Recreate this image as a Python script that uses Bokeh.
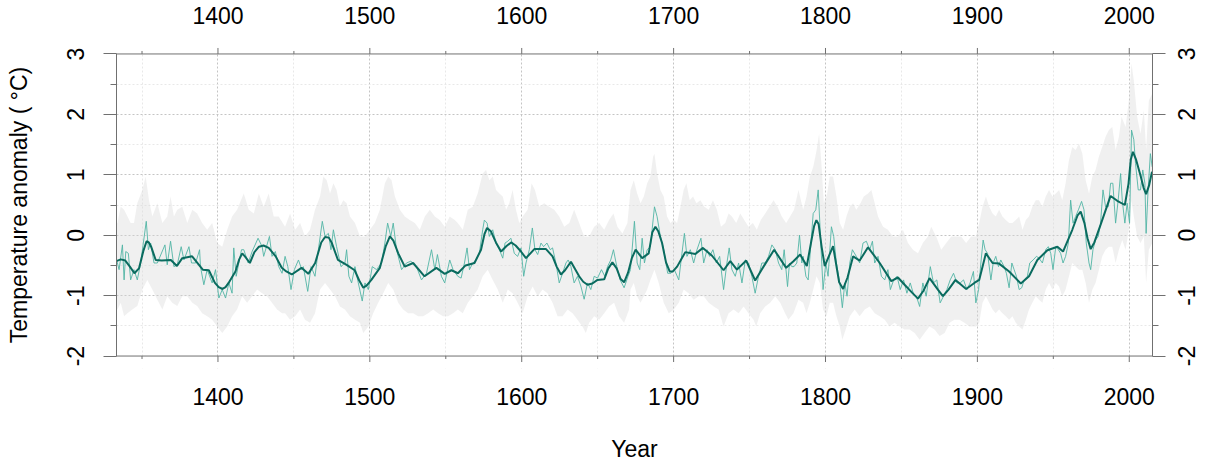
import math
from bokeh.plotting import figure
from bokeh.models import Range1d, LinearAxis, FixedTicker
from bokeh.embed import file_html
from bokeh.resources import INLINE

# ---------------- data ----------------
smooth_years = [1333, 1336, 1339, 1342, 1345, 1348, 1351, 1353, 1354.5, 1356, 1359, 1363, 1369, 1373, 1376.5,
                1383, 1390, 1394, 1398, 1400.5, 1403, 1405, 1407, 1411.5, 1414, 1416, 1418, 1421, 1424, 1427,
                1430, 1433.4, 1438, 1442, 1445, 1448.6, 1455, 1459.5, 1464, 1468, 1470.5, 1473, 1475, 1479,
                1484.7, 1490, 1493, 1495.7, 1498, 1501, 1506.6, 1510.5, 1513.2, 1515.5, 1518.7, 1523, 1528.5,
                1536, 1543.8, 1549.3, 1553.7, 1558, 1563, 1568.9, 1573.2, 1575.5, 1577.2, 1579.8, 1583,
                1586.4, 1590, 1593, 1596, 1599.5, 1602.8, 1608.3, 1616, 1620.3, 1623, 1625.8, 1628.5, 1632.4,
                1637.8, 1640.5, 1643.3, 1646.5, 1649.9, 1654.3, 1657, 1659.7, 1662.5, 1665, 1667.4, 1670,
                1672.5, 1675, 1679.3, 1683.6, 1686, 1688, 1690, 1692.4, 1695, 1697.4, 1699.5, 1702.3, 1707.7,
                1714.3, 1719.3, 1725.3, 1732.9, 1737.3, 1741.7, 1747.8, 1753.7, 1759.2, 1766.2, 1774.1,
                1778.9, 1783.3, 1787.7, 1791, 1792.5, 1794, 1795.5, 1797.5, 1799.5, 1805, 1809, 1811.6,
                1814.5, 1818.2, 1822.5, 1828, 1835.7, 1843.3, 1847.7, 1852.1, 1857, 1860.9, 1864.5, 1868.5,
                1874, 1877.3, 1881, 1885.6, 1892.6, 1898, 1901.2, 1905.6, 1910, 1914.3, 1920.9, 1928.6, 1934,
                1939.5, 1946.1, 1952.7, 1956.4, 1962.5, 1966, 1968, 1970.5, 1972.5, 1974.6, 1977, 1981.1,
                1987.7, 1992.1, 1997.1, 1999.5, 2001, 2002.4, 2004.5, 2007.4, 2009.5, 2011.1, 2013, 2015]
smooth_vals = [-0.43, -0.40, -0.42, -0.52, -0.63, -0.55, -0.25, -0.10, -0.12, -0.19, -0.41, -0.42, -0.41, -0.51, -0.38,
               -0.35, -0.57, -0.58, -0.79, -0.86, -0.89, -0.86, -0.79, -0.60, -0.40, -0.30, -0.36, -0.46, -0.28, -0.19,
               -0.17, -0.21, -0.35, -0.54, -0.60, -0.65, -0.54, -0.64, -0.46, -0.12, -0.03, -0.04, -0.13, -0.41,
               -0.49, -0.58, -0.75, -0.87, -0.83, -0.74, -0.54, -0.18, -0.02, -0.09, -0.30, -0.52, -0.46,
               -0.68, -0.54, -0.64, -0.58, -0.63, -0.50, -0.46, -0.24, 0.02, 0.12, 0.06, -0.12,
               -0.27, -0.18, -0.12, -0.17, -0.27, -0.38, -0.23, -0.23, -0.35, -0.52, -0.65, -0.58, -0.44,
               -0.68, -0.77, -0.82, -0.80, -0.74, -0.73, -0.55, -0.45, -0.55, -0.72, -0.78, -0.62,
               -0.38, -0.24, -0.38, -0.30, 0.05, 0.14, 0.06, -0.13, -0.45, -0.60, -0.60, -0.52, -0.28,
               -0.31, -0.21, -0.34, -0.58, -0.43, -0.57, -0.42, -0.75, -0.52, -0.24, -0.54,
               -0.43, -0.32, -0.51, -0.05, 0.15, 0.25, 0.18, -0.20, -0.51, -0.18, -0.78, -0.89,
               -0.70, -0.35, -0.42, -0.20, -0.46, -0.76, -0.70, -0.82, -0.95, -1.05, -0.92, -0.71,
               -0.90, -1.01, -0.90, -0.74, -0.89, -0.79, -0.74, -0.30, -0.46, -0.47, -0.60, -0.80, -0.68,
               -0.41, -0.25, -0.19, -0.27, 0.09, 0.33, 0.39, 0.20, -0.05, -0.23, -0.12, 0.17,
               0.65, 0.57, 0.50, 0.85, 1.25, 1.38, 1.25, 0.99, 0.78, 0.68, 0.82, 1.05]

annual_years = [1333.3, 1334.9, 1337.1, 1338.2, 1339.3, 1341.0, 1342.5, 1344.7, 1346.9, 1349.1, 1352.8, 1354.2,
                1355.7, 1357.9, 1360.1, 1365.1, 1366.6, 1368.8, 1371.0, 1373.2, 1375.8, 1377.6, 1380.9, 1382.6,
                1385.3, 1387.9, 1388.5, 1390.7, 1392.9, 1396.2, 1398.4, 1400.6, 1402.8, 1405.0, 1407.2, 1409.3,
                1410.4, 1412.0, 1415.5, 1417.0, 1419.9, 1422.5, 1426.4, 1429.1, 1430.1, 1433.9, 1435.6, 1437.8,
                1440.0, 1442.2,
                1444.2, 1446.0, 1448.1, 1450.3, 1453.0, 1455.2, 1456.2, 1459.1, 1461.3, 1463.9, 1466.1, 1468.7,
                1470.5, 1472.7, 1474.4, 1476.0, 1478.1, 1481.0, 1483.6, 1484.7, 1486.2, 1488.0, 1490.2, 1492.4,
                1495.0, 1496.8, 1499.0, 1501.6, 1504.4, 1507.7, 1509.9, 1511.7, 1513.8, 1515.4, 1517.6, 1520.9,
                1524.1, 1527.0, 1530.7, 1534.0, 1537.3, 1540.6, 1542.8, 1544.5, 1547.1, 1549.3, 1552.6, 1554.8,
                1557.9, 1560.1, 1562.3, 1564.0, 1565.6, 1567.8, 1569.9, 1572.1, 1574.3, 1575.4, 1577.2, 1578.7,
                1580.9, 1583.1, 1585.3, 1587.5, 1589.0, 1590.8, 1592.9, 1595.1, 1597.3, 1599.5, 1601.3, 1602.8,
                1605.0, 1607.0, 1608.7, 1610.5, 1612.7, 1614.4, 1616.6, 1618.8, 1620.3, 1622.5, 1624.7, 1626.9,
                1629.1, 1630.6, 1632.4, 1634.5, 1636.7, 1638.9, 1641.1, 1643.3, 1645.5, 1647.7, 1649.9, 1652.5,
                1654.7, 1656.5, 1658.6, 1660.4, 1662.6, 1664.8, 1667.4, 1670.0,
                1671.6, 1674.2, 1676.0, 1677.7, 1679.3, 1680.8, 1682.6, 1684.7, 1687.4, 1689.1, 1691.3, 1693.5,
                1696.1, 1698.3, 1700.5, 1703.4, 1705.5, 1707.1, 1708.8, 1711.0, 1713.2, 1715.4, 1718.0, 1719.8,
                1722.0, 1723.7, 1725.9, 1728.1, 1730.3, 1732.9, 1735.1, 1736.6, 1738.4, 1740.6, 1742.8, 1745.0,
                1747.2, 1749.3, 1751.5, 1753.7, 1755.9, 1758.1, 1760.3, 1762.5, 1764.7, 1766.9, 1769.1, 1771.2,
                1772.8, 1775.0, 1776.3, 1777.8, 1779.3, 1781.1, 1782.9, 1784.4,
                1785.3, 1787.1, 1788.6, 1790.1, 1791.9, 1793.6, 1795.2, 1796.7, 1798.4, 1800.2, 1801.7, 1803.9,
                1805.4, 1807.2, 1809.4, 1811.1, 1812.7, 1814.2, 1816.0, 1817.7, 1820.3, 1822.5, 1824.7, 1826.9,
                1829.1, 1830.9, 1832.4, 1834.6, 1836.8, 1839.0, 1841.1, 1842.7, 1844.9, 1847.1, 1849.2, 1851.4,
                1853.6, 1855.8, 1858.0, 1859.8, 1862.0, 1864.1, 1866.3, 1869.0, 1871.1, 1873.3, 1875.5, 1877.7,
                1879.9, 1882.1, 1884.3, 1886.5, 1888.7, 1890.9, 1893.1, 1895.2, 1897.4,
                1899.0, 1900.8, 1902.3, 1903.8, 1905.1, 1906.7, 1908.9, 1910.4, 1912.1, 1913.9, 1915.4, 1917.6,
                1919.1, 1920.9, 1922.7, 1924.2, 1925.7, 1927.5, 1929.2, 1930.8, 1932.9, 1934.5, 1936.7, 1938.9,
                1940.6, 1942.8, 1945.0, 1946.7, 1948.3, 1949.8, 1951.6, 1953.3, 1954.8, 1956.4, 1958.1, 1959.9,
                1961.4, 1963.0, 1964.7, 1966.5, 1968.6, 1970.2, 1971.7, 1973.5, 1974.6, 1976.1, 1977.8, 1979.6,
                1981.1, 1982.7, 1984.4, 1986.2, 1987.7, 1989.2, 1991.0, 1992.7, 1994.3, 1995.4, 1997.1, 1998.6,
                2000.2, 2001.5, 2003.0, 2004.1, 2005.9, 2007.4, 2008.9, 2010.3, 2011.1, 2012.4, 2013.9, 2015.1]
annual_vals = [-0.41, -0.57, -0.16, -0.74, -0.27, -0.30, -0.74, -0.57, -0.74, -0.46, 0.23, -0.24,
               -0.13, -0.46, -0.46, -0.16, -0.49, -0.10, -0.52, -0.49, -0.19, -0.41, -0.19, -0.46,
               -0.46, -0.24, -0.52, -0.82, -0.57, -0.79, -0.57, -1.04, -0.90, -1.04, -0.79, -0.96,
               -0.21, -0.68, -0.24, -0.24, -0.46, -0.27, -0.05, -0.19, -0.35, -0.02, -0.35, -0.27,
               -0.52, -0.63,
               -0.35, -0.52, -0.90, -0.57, -0.41, -0.57, -0.52, -0.93, -0.52, -0.68, -0.24, 0.23,
               -0.02, 0.03, -0.24, 0.09, -0.19, -0.52, -0.46, -0.24, -0.68, -0.79, -0.52, -0.79,
               -1.09, -0.79, -0.90, -0.52, -0.57, -0.46, -0.13, 0.20, -0.02, 0.20, -0.24, -0.57,
               -0.46, -0.43, -0.52, -0.74, -0.63, -0.24, -0.57, -0.32, -0.68, -0.79, -0.41, -0.57,
               -0.68, -0.71, -0.46, -0.21, -0.57, -0.46, -0.41, -0.30, 0.09, 0.25, 0.20, -0.02,
               0.09, -0.13, -0.24, -0.38, -0.13, -0.10, -0.05, -0.30, -0.35, -0.21, -0.68, -0.46,
               -0.24, 0.12, -0.24, -0.32, -0.13, -0.19, -0.13, -0.24, -0.21, -0.46, -0.79, -0.63,
               -0.46, -0.41, -0.52, -0.79, -0.68, -0.84, -1.06, -0.79, -0.90, -0.68, -0.71, -0.57,
               -0.68, -0.52, -0.41, -0.24, -0.52, -0.74, -0.87, -0.68,
               -0.57, 0.23, -0.46, -0.57, -0.05, -0.46, -0.24, -0.19, 0.47, 0.31, -0.02, -0.24,
               -0.63, -0.63, -0.57, -0.74, -0.30, 0.03, -0.35, -0.24, -0.46, -0.24, -0.05, -0.46,
               -0.24, -0.35, -0.24, -0.46, -0.35, -0.90, -0.46, -0.21, -0.57, -0.68, -0.46, -0.79,
               -0.41, -0.46, -0.68, -0.96, -0.68, -0.46, -0.46, -0.35, -0.16, -0.24, -0.46, -0.57,
               -0.24, -0.85, -0.46, -0.52, -0.52, -0.46, 0.00, -0.46,
               -0.35, -0.68, -0.74, -0.24, 0.36, 0.42, 0.75, -0.02, -0.90, -0.46, -0.68, 0.14,
               -0.02, -0.46, -0.79, -1.20, -0.79, -1.01, -0.46, -0.24, -0.35, -0.46, -0.13, -0.10,
               -0.24, -0.10, -0.46, -0.35, -0.68, -0.74, -0.57, -0.90, -0.74, -0.68, -0.90, -0.74,
               -0.96, -0.79, -0.98, -1.01, -1.18, -0.79, -1.01, -0.52, -0.79, -0.74, -1.12, -1.01,
               -0.90, -0.74, -0.63, -0.79, -0.79, -0.74, -0.90, -0.79, -0.60,
               -1.12, -0.90, -0.46, -0.08, -0.24, -0.30, -0.74, -0.46, -0.35, -0.52, -0.41, -0.52,
               -0.63, -0.87, -0.46, -0.57, -0.68, -0.90, -0.87, -0.74, -0.68, -0.46, -0.41, -0.35,
               -0.38, -0.46, -0.24, -0.19, -0.30, -0.57, -0.19, -0.24, -0.30, -0.46, -0.35, -0.13,
               0.58, 0.20, 0.31, 0.42, 0.56, 0.42, -0.13, -0.46, -0.57, -0.24, -0.08, -0.02,
               0.20, 0.75, 0.47, 0.47, 0.86, 0.86, 0.20, 0.58, 1.02, 0.58, 0.20, 0.53,
               0.20, 1.74, 1.58, 1.19, 0.75, 0.75, 1.08, 0.86, 0.03, 0.75, 1.35, 1.13]

upper_years = [1330.5, 1333.8, 1336.0, 1338.2, 1340.4, 1342.5, 1344.7, 1346.9, 1350.2, 1352.4, 1354.6, 1356.8,
               1360.1, 1363.4, 1366.6, 1368.8, 1371.0, 1373.2, 1376.5, 1379.8, 1383.1, 1386.3, 1389.6, 1392.9,
               1396.2, 1399.5, 1402.8, 1406.1, 1409.3, 1412.6, 1417.0, 1420.3, 1423.6, 1426.9, 1430.1, 1433.4,
               1436.7, 1440.0,
               1444.2, 1447.5, 1450.8, 1454.1, 1457.3, 1460.6, 1463.9, 1467.2, 1469.4, 1471.6, 1473.8, 1476.0,
               1478.1, 1480.3, 1482.5, 1484.7, 1486.9, 1490.2, 1493.5, 1496.8, 1500.0, 1503.3, 1506.6, 1509.9,
               1512.1, 1514.3, 1516.5, 1519.8, 1523.0, 1526.3, 1529.6, 1532.9, 1536.2, 1539.5, 1542.8, 1546.0,
               1549.3, 1552.6, 1555.9,
               1557.9, 1561.2, 1564.5, 1567.8, 1571.0, 1574.3, 1576.5, 1578.7, 1580.9, 1583.1, 1585.3, 1587.5,
               1589.7, 1591.8, 1594.0, 1596.2, 1598.4, 1600.6, 1603.9, 1606.5, 1608.7, 1611.6, 1614.8, 1618.1,
               1621.4, 1624.7, 1628.0, 1631.3, 1634.5, 1637.8, 1641.1, 1644.4, 1647.7, 1651.0, 1654.3, 1657.5,
               1660.4, 1663.0, 1666.3, 1669.6,
               1671.6, 1673.8, 1676.0, 1678.2, 1680.4, 1682.6, 1684.7, 1686.5, 1687.4, 1689.1, 1691.3, 1693.5,
               1695.7, 1697.9, 1700.1, 1702.3, 1704.5, 1706.6, 1708.4, 1710.6, 1712.8, 1715.0, 1717.6, 1720.2,
               1723.1, 1725.9, 1728.5, 1731.2, 1734.0, 1736.2, 1738.4, 1741.2, 1743.9, 1746.5, 1749.3, 1752.2,
               1754.8, 1757.4, 1760.3, 1763.1, 1765.8, 1768.4, 1771.2, 1774.1, 1776.7, 1779.3, 1782.2,
               1785.3, 1787.5, 1789.7, 1791.9, 1794.1, 1795.8, 1797.3, 1798.9, 1801.1, 1802.8, 1805.0, 1807.2,
               1809.4, 1811.6, 1813.8, 1816.0, 1818.2, 1820.3, 1823.0, 1825.2, 1828.0, 1830.2, 1832.4, 1834.6,
               1837.9, 1841.1, 1844.4, 1847.7, 1851.0, 1854.3, 1857.6, 1860.9, 1864.1, 1867.4, 1869.6, 1872.9,
               1876.2, 1879.5, 1882.8, 1886.0, 1889.3, 1892.6, 1895.9,
               1899.0, 1901.2, 1903.4, 1905.6, 1907.8, 1910.0, 1912.1, 1914.3, 1916.5, 1918.7, 1920.9, 1923.1,
               1925.3, 1927.5, 1929.7, 1931.9, 1934.0, 1936.2, 1938.4, 1940.6, 1942.8, 1945.0, 1947.2, 1949.4,
               1951.6, 1953.8, 1955.9, 1958.1, 1960.3, 1962.5, 1964.7, 1966.9, 1969.1, 1971.3, 1973.5, 1975.7,
               1977.8, 1980.0, 1982.2, 1984.4, 1986.6, 1988.8, 1991.0, 1993.2, 1994.9, 1997.6, 1999.7, 2001.5,
               2003.0, 2005.2, 2007.4, 2009.6, 2011.1, 2012.9, 2015.1]
upper_vals = [0.20, 0.20, 0.47, 0.42, 0.31, 0.20, 0.20, 0.53, 0.75, 0.97, 0.58, 0.31,
              0.53, 0.20, 0.31, 0.64, 0.31, 0.42, 0.47, 0.20, 0.42, 0.36, 0.20, 0.09,
              0.20, -0.13, -0.19, 0.09, 0.31, 0.42, 0.69, 0.42, 0.36, 0.69, 0.47, 0.69,
              0.31, 0.31,
              0.14, 0.36, 0.09, 0.20, -0.02, 0.09, 0.42, 0.64, 0.97, 0.91, 0.69, 0.86,
              0.75, 0.47, 0.58, 0.53, 0.31, 0.20, -0.02, -0.02, 0.09, 0.20, 0.42, 0.86,
              0.97, 0.91, 0.64, 0.42, 0.31, 0.25, 0.20, 0.09, 0.31, 0.42, 0.31, 0.25,
              0.14, 0.31, 0.25,
              0.20, 0.09, 0.42, 0.47, 0.69, 1.02, 1.08, 0.91, 0.97, 0.75, 0.69, 0.64,
              0.42, 0.53, 0.75, 0.42, 0.20, 0.31, 0.42, 0.86, 0.75, 0.47, 0.53, 0.47,
              0.42, 0.31, 0.14, 0.20, 0.42, 0.20, -0.02, -0.02, 0.14, 0.20, 0.09, 0.25,
              0.36, 0.14, 0.03, 0.20,
              0.75, 0.91, 0.69, 0.53, 0.64, 0.86, 0.97, 1.30, 1.35, 1.02, 0.75, 0.64,
              0.31, 0.20, 0.25, 0.20, 0.47, 0.75, 0.86, 0.58, 0.64, 0.53, 0.58, 0.47,
              0.42, 0.58, 0.42, 0.14, 0.20, 0.36, 0.31, 0.20, 0.36, 0.25, 0.14, 0.20,
              0.09, 0.25, 0.36, 0.47, 0.58, 0.47, 0.31, 0.20, 0.31, 0.42, 0.75,
              0.42, 0.64, 0.97, 1.13, 1.40, 1.68, 1.19, 0.53, 0.69, 0.97, 0.97, 0.64,
              0.20, 0.09, 0.31, 0.47, 0.53, 0.42, 0.53, 0.64, 0.69, 0.75, 0.53, 0.31,
              0.14, 0.09, -0.02, -0.02, 0.09, -0.13, -0.24, -0.30, -0.13, -0.02, 0.14, -0.02,
              -0.24, -0.13, -0.02, -0.02, -0.02, -0.13, -0.02,
              -0.02, 0.20, 0.47, 0.64, 0.47, 0.36, 0.31, 0.42, 0.31, 0.25, 0.20, 0.20,
              0.25, 0.31, 0.09, 0.25, 0.31, 0.47, 0.58, 0.58, 0.47, 0.64, 0.75, 0.64,
              0.69, 0.75, 0.58, 0.86, 1.24, 1.46, 1.41, 1.52, 1.35, 0.91, 0.69, 0.97,
              1.08, 1.30, 1.46, 1.63, 1.74, 1.79, 1.41, 1.63, 1.96, 1.79, 2.23, 2.84,
              2.56, 1.96, 1.68, 2.07, 1.41, 2.23, 2.34]

lower_years = [1330.5, 1333.8, 1336.0, 1338.2, 1340.4, 1343.6, 1346.9, 1350.2, 1353.5, 1356.8, 1360.1, 1363.4,
               1366.6, 1369.9, 1373.2, 1376.5, 1379.8, 1383.1, 1386.3, 1389.6, 1392.9, 1396.2, 1399.5, 1402.8,
               1406.1, 1409.3, 1412.6, 1415.9, 1419.2, 1422.5, 1425.8, 1429.1, 1432.3, 1435.6, 1438.9, 1442.2,
               1444.2, 1447.5, 1450.8, 1454.1, 1457.3, 1460.6, 1463.9, 1467.2, 1470.5, 1473.8, 1477.1, 1480.3,
               1483.6, 1486.9, 1490.2, 1493.5, 1495.7, 1499.0, 1502.2, 1505.5, 1508.8, 1512.1, 1515.4, 1518.7,
               1521.9, 1525.2, 1528.5, 1531.8, 1535.1, 1538.4, 1541.7, 1544.9, 1548.2, 1551.5, 1554.8,
               1557.9, 1561.2, 1564.5, 1567.8, 1571.0, 1574.3, 1577.6, 1580.9, 1584.2, 1587.5, 1590.8, 1594.0,
               1597.3, 1600.6, 1603.9, 1607.2, 1610.5, 1613.7, 1617.0, 1620.3, 1623.6, 1626.9, 1630.2, 1633.5,
               1636.7, 1640.0, 1642.2, 1644.4, 1647.7, 1651.0, 1654.3, 1657.5, 1660.8, 1664.1, 1667.4, 1670.7,
               1671.6, 1673.8, 1676.0, 1678.2, 1680.4, 1682.6, 1684.7, 1687.4, 1690.2, 1693.5, 1696.8, 1700.1,
               1703.4, 1706.6, 1709.9, 1713.2, 1716.5, 1719.8, 1723.1, 1726.4, 1729.6, 1732.9, 1736.2, 1739.5,
               1742.8, 1746.1, 1749.3, 1752.6, 1754.4, 1757.0, 1760.3, 1763.6, 1766.9, 1770.2, 1773.4, 1775.6,
               1778.9, 1782.2,
               1785.3, 1787.5, 1789.7, 1791.9, 1794.1, 1796.3, 1798.4, 1800.6, 1802.8, 1805.0, 1807.2, 1809.4,
               1811.1, 1813.3, 1816.0, 1819.2, 1822.5, 1825.8, 1829.1, 1832.4, 1835.7, 1839.0, 1842.2, 1845.5,
               1848.8, 1852.1, 1855.4, 1858.7, 1862.0, 1865.2, 1868.5, 1871.8, 1875.1, 1878.4, 1881.7, 1884.9,
               1888.2, 1891.5, 1894.8, 1898.1,
               1899.0, 1901.2, 1903.4, 1905.6, 1907.8, 1910.0, 1912.1, 1914.3, 1916.5, 1918.7, 1920.9, 1923.1,
               1925.3, 1927.5, 1929.7, 1931.9, 1934.0, 1936.2, 1938.4, 1940.6, 1942.8, 1945.0, 1947.2, 1949.4,
               1951.6, 1953.8, 1955.9, 1958.1, 1960.3, 1962.5, 1964.7, 1966.9, 1969.1, 1971.3, 1973.5, 1975.7,
               1977.8, 1980.0, 1982.2, 1984.4, 1986.6, 1988.8, 1991.0, 1993.2, 1995.4, 1997.6, 1999.7, 2001.5,
               2003.0, 2005.2, 2007.4, 2009.6, 2011.1, 2012.9, 2015.1]
lower_vals = [-1.17, -1.23, -1.12, -1.34, -1.29, -1.23, -1.17, -0.90, -0.74, -0.90, -1.07, -1.23,
              -1.01, -1.12, -1.17, -1.01, -1.01, -1.12, -1.17, -1.29, -1.34, -1.40, -1.51, -1.62,
              -1.51, -1.34, -1.23, -1.01, -1.12, -1.01, -0.90, -0.96, -1.01, -1.12, -1.23, -1.29,
              -1.29, -1.40, -1.34, -1.23, -1.40, -1.45, -1.29, -0.90, -0.79, -0.90, -1.01, -1.18,
              -1.23, -1.34, -1.40, -1.45, -1.62, -1.51, -1.29, -1.12, -0.96, -0.79, -0.90, -1.12,
              -1.23, -1.29, -1.29, -1.34, -1.34, -1.29, -1.23, -1.29, -1.34, -1.34, -1.29,
              -1.23, -1.29, -1.12, -1.01, -0.90, -0.68, -0.57, -0.74, -0.90, -1.12, -0.90, -0.96,
              -1.12, -1.29, -1.01, -0.85, -1.01, -0.90, -0.96, -1.12, -1.34, -1.34, -1.23, -1.29,
              -1.40, -1.51, -1.62, -1.45, -1.34, -1.40, -1.29, -1.18, -1.12, -1.34, -1.45, -1.23,
              -0.90, -0.79, -1.01, -1.12, -1.01, -0.90, -0.74, -0.57, -0.79, -1.12, -1.29, -1.23,
              -1.12, -0.90, -0.96, -1.07, -1.01, -1.01, -1.12, -1.18, -1.23, -1.51, -1.29, -1.23,
              -1.29, -1.18, -1.29, -1.40, -1.51, -1.29, -1.18, -1.12, -1.01, -1.12, -1.29, -1.40,
              -1.29, -1.07,
              -1.12, -1.29, -1.12, -0.90, -0.68, -0.79, -1.23, -1.34, -1.12, -1.12, -1.34, -1.51,
              -1.73, -1.56, -1.34, -1.23, -1.34, -1.23, -1.18, -1.29, -1.34, -1.40, -1.51, -1.45,
              -1.51, -1.56, -1.56, -1.62, -1.73, -1.62, -1.51, -1.56, -1.67, -1.62, -1.45, -1.40,
              -1.40, -1.45, -1.51, -1.51,
              -1.51, -1.45, -1.12, -1.01, -1.12, -1.23, -1.29, -1.23, -1.29, -1.34, -1.40, -1.34,
              -1.45, -1.51, -1.56, -1.40, -1.23, -1.12, -1.01, -1.07, -1.12, -0.90, -0.79, -0.90,
              -0.79, -0.85, -1.01, -0.90, -0.68, -0.46, -0.52, -0.57, -0.57, -0.79, -1.12, -0.90,
              -0.79, -0.57, -0.35, -0.24, -0.19, -0.19, -0.46, -0.24, -0.08, -0.24, 0.09, 0.58,
              0.31, -0.02, -0.13, -0.02, -0.79, -0.24, -0.13]

x_major = [1400, 1500, 1600, 1700, 1800, 1900, 2000]
x_minor = [1350, 1450, 1550, 1650, 1750, 1850, 1950]
y_major = [-2, -1, 0, 1, 2, 3]
y_minor = [-1.5, -0.5, 0.5, 1.5, 2.5]
y_labels = ["-2", "-1", "0", "1", "2", "3"]
x_title = "Year"
y_title = "Temperature anomaly ( °C)"

# ---------------- layout constants ----------------
FONT = "Liberation Sans"
FS = "23px"
AXIS_COLOR = "#707070"
X0, X1 = 1333.2, 2015.3          # x extent of the plot box
Y0, Y1 = -2, 3                   # y extent of the plot box
W, H = 1206, 464
BL, BR, BT, BB = 116, 52, 41, 95  # frame borders (frame is a little taller than the box)
PAD = 12.5                        # px of frame above / below the box
PX_PER_Y = (H - BT - BB - 2 * PAD) / (Y1 - Y0)
YPAD = PAD / PX_PER_Y

p = figure(width=W, height=H, output_backend="svg", toolbar_location=None,
           x_range=Range1d(X0, X1), y_range=Range1d(Y0 - YPAD, Y1 + YPAD),
           min_border_left=BL, min_border_right=BR, min_border_top=BT, min_border_bottom=BB)
p.outline_line_color = None
p.background_fill_color = "white"
p.border_fill_color = "white"

xt = FixedTicker(ticks=x_major, minor_ticks=x_minor)
yt = FixedTicker(ticks=y_major, minor_ticks=y_minor)


def base_style(ax):
    ax.axis_line_color = AXIS_COLOR
    ax.axis_line_width = 1
    ax.major_tick_line_color = AXIS_COLOR
    ax.minor_tick_line_color = AXIS_COLOR
    ax.major_tick_in = 0
    ax.minor_tick_in = 0
    ax.major_label_text_font = FONT
    ax.major_label_text_font_size = FS
    ax.major_label_text_color = "#000000"
    ax.axis_label_text_font = FONT
    ax.axis_label_text_font_size = FS
    ax.axis_label_text_font_style = "normal"
    ax.axis_label_text_color = "#000000"


# x axes: labels only (the box edge and its ticks are drawn inside the frame below)
bottom = p.below[0]
top = LinearAxis()
p.add_layout(top, "above")
for ax in (bottom, top):
    base_style(ax)
    ax.ticker = xt
    ax.axis_line_color = None
    ax.major_tick_line_color = None
    ax.minor_tick_line_color = None
    ax.major_tick_out = 0
    ax.minor_tick_out = 0
bottom.major_label_standoff = 19
bottom.axis_label = x_title
bottom.axis_label_standoff = 28
top.major_label_standoff = 18


# y axes: one axis carries line + ticks, a second one (outside it) carries the rotated labels
def tick_only(ax):
    base_style(ax)
    ax.ticker = yt
    ax.bounds = (Y0, Y1)
    ax.major_tick_out = 13
    ax.minor_tick_out = 6
    ax.major_label_standoff = 0
    ax.major_label_text_font_size = "1px"
    ax.major_label_text_color = None


def label_only(ax, positions, standoff):
    base_style(ax)
    ax.ticker = FixedTicker(ticks=positions, minor_ticks=[])
    ax.axis_line_color = None
    ax.major_tick_line_color = None
    ax.minor_tick_line_color = None
    ax.major_tick_out = 0
    ax.minor_tick_out = 0
    ax.major_label_standoff = standoff
    ax.major_label_orientation = math.pi / 2
    ax.major_label_overrides = {pos: t for pos, t in zip(positions, y_labels)}


def half_len(t):
    # half of the label's advance width (Liberation Sans: digits .556em, hyphen .333em), in y units
    w = sum(0.333 if c == "-" else 0.556 for c in t) * 23.0
    return w / 2 / PX_PER_Y


left_ticks = p.left[0]
tick_only(left_ticks)
left_labels = LinearAxis()
p.add_layout(left_labels, "left")
label_only(left_labels, [round(v + half_len(t), 4) for v, t in zip(y_major, y_labels)], 28)
left_labels.axis_label = y_title
left_labels.axis_label_standoff = 24

right_ticks = LinearAxis()
p.add_layout(right_ticks, "right")
tick_only(right_ticks)
right_labels = LinearAxis()
p.add_layout(right_labels, "right")
label_only(right_labels, [round(v - half_len(t), 4) for v, t in zip(y_major, y_labels)], 21)

# grid
p.xgrid.ticker = xt
p.ygrid.ticker = yt
for g in (p.xgrid[0], p.ygrid[0]):
    g.grid_line_color = "#c4c4c4"
    g.grid_line_dash = "2 2"
    g.grid_line_width = 1
    g.minor_grid_line_color = "#e8e8e8"
    g.minor_grid_line_dash = "2 2"
    g.minor_grid_line_width = 1

# blank the strips of frame outside the box
p.quad(left=[X0, X0], right=[X1, X1], bottom=[Y1, Y0 - YPAD], top=[Y1 + YPAD, Y0],
       fill_color="white", line_color=None)

# uncertainty band
p.patch(x=upper_years + lower_years[::-1], y=upper_vals + lower_vals[::-1],
        fill_color="#d8d8d8", fill_alpha=0.38, line_color=None)
# annual values
p.line(annual_years, annual_vals, line_color="#52b5a5", line_width=1, line_alpha=0.9)
# smoothed values
p.line(smooth_years, smooth_vals, line_color="#0a6b5f", line_width=2)

# top and bottom edges of the box with their outward ticks
maj = 6 / PX_PER_Y
mnr = 3 / PX_PER_Y
p.segment(x0=[X0, X0], y0=[Y1, Y0], x1=[X1, X1], y1=[Y1, Y0], line_color=AXIS_COLOR, line_width=1)
p.segment(x0=x_major + x_major, x1=x_major + x_major,
          y0=[Y1] * len(x_major) + [Y0] * len(x_major),
          y1=[Y1 + maj] * len(x_major) + [Y0 - maj] * len(x_major),
          line_color=AXIS_COLOR, line_width=1)
p.segment(x0=x_minor + x_minor, x1=x_minor + x_minor,
          y0=[Y1] * len(x_minor) + [Y0] * len(x_minor),
          y1=[Y1 + mnr] * len(x_minor) + [Y0 - mnr] * len(x_minor),
          line_color=AXIS_COLOR, line_width=1)

open("out.html", "w").write(file_html(p, INLINE))
